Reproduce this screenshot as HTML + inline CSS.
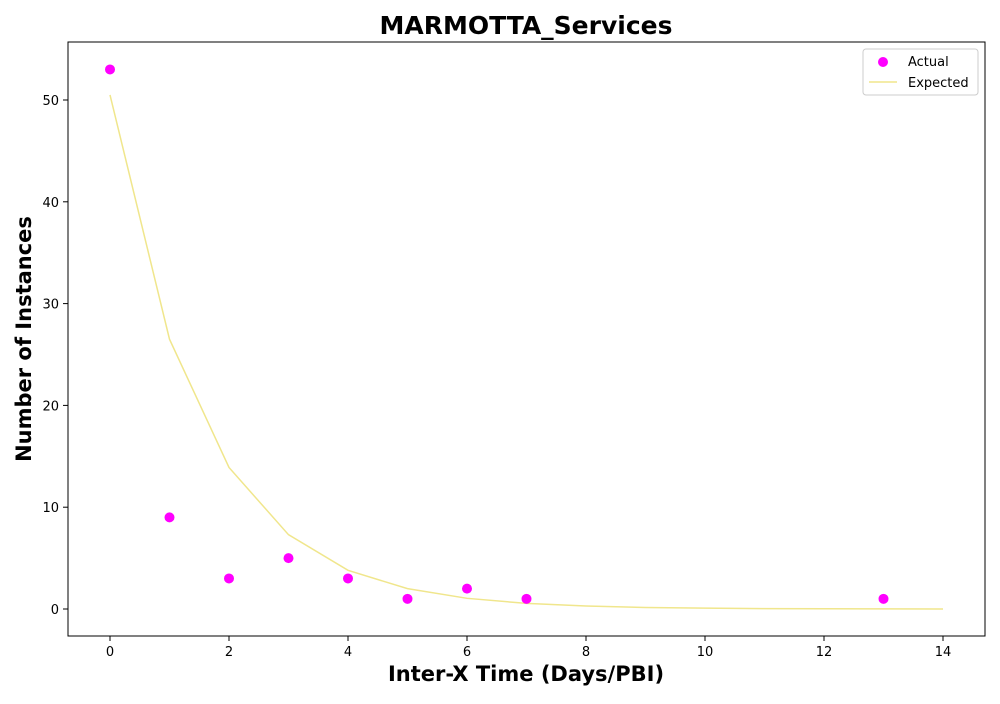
<!DOCTYPE html>
<html><head><meta charset="utf-8"><style>
body{margin:0;background:#fff;font-family:"DejaVu Sans",sans-serif}
</style></head><body>
<svg id="chart" width="1000" height="700" xmlns="http://www.w3.org/2000/svg" font-family="DejaVu Sans, sans-serif"></svg>
<script>
const actualX=[0,1,2,3,4,5,6,7,13];
const actualY=[53,9,3,5,3,1,2,1,1];
const expectedX=[0,1,2,3,4,5,6,7,8,9,10,11,12,13,14];
const expectedY=[50.5,26.5,13.9,7.3,3.8,2.0,1.05,0.55,0.29,0.15,0.08,0.04,0.02,0.01,0.006];
const xTicks=[0,2,4,6,8,10,12,14];
const yTicks=[0,10,20,30,40,50];
const svg=document.getElementById('chart');
const NS='http://www.w3.org/2000/svg';
const L=68,R=985,T=42,B=636;
const sx=v=>110+v*(943-110)/14;
const sy=v=>609-v*(609-100)/50;
function mk(tag,attrs,parent){const e=document.createElementNS(NS,tag);for(const k in attrs)e.setAttribute(k,attrs[k]);(parent||svg).appendChild(e);return e;}
const title=mk('text',{x:526,y:34,'text-anchor':'middle','font-size':25,'font-weight':'bold'});title.textContent='MARMOTTA_Services';

xTicks.forEach(t=>{const g=mk('g',{});

mk('line',{x1:sx(t),x2:sx(t),y1:B,y2:B+5,stroke:'#000'},g);
const tx=mk('text',{x:sx(t),y:B+20,'text-anchor':'middle','font-size':13},g);tx.textContent=t;});
yTicks.forEach(t=>{const g=mk('g',{});

mk('line',{x1:L-5,x2:L,y1:sy(t),y2:sy(t),stroke:'#000'},g);
const tx=mk('text',{x:L-9,y:sy(t)+5,'text-anchor':'end','font-size':13},g);tx.textContent=t;});
const xt=mk('text',{x:526,y:681,'text-anchor':'middle','font-size':21,'font-weight':'bold'});xt.textContent='Inter-X Time (Days/PBI)';

const yt=mk('text',{x:0,y:0,'text-anchor':'middle','font-size':21,'font-weight':'bold',transform:'translate(31,339) rotate(-90)'});yt.textContent='Number of Instances';

const line=mk('polyline',{points:expectedX.map((x,i)=>sx(x)+','+sy(expectedY[i])).join(' '),fill:'none',stroke:'#f0e68c','stroke-width':1.5});

actualX.forEach((x,i)=>{const c=mk('circle',{cx:sx(x),cy:sy(actualY[i]),r:5,fill:'#ff00ff'});
});
const frame=mk('rect',{x:L,y:T,width:R-L,height:B-T,fill:'none',stroke:'#000','stroke-width':1});

const lg=mk('g',{});
mk('rect',{x:863,y:49,width:115,height:46,rx:3,fill:'#fff',stroke:'#ccc'},lg);
mk('circle',{cx:883,cy:62,r:5,fill:'#ff00ff'},lg);
const t1=mk('text',{x:908,y:66,'font-size':13},lg);t1.textContent='Actual';
mk('line',{x1:869,x2:897,y1:82,y2:82,stroke:'#f0e68c','stroke-width':1.5},lg);
const t2=mk('text',{x:908,y:87,'font-size':13},lg);t2.textContent='Expected';
</script>
</body></html>
